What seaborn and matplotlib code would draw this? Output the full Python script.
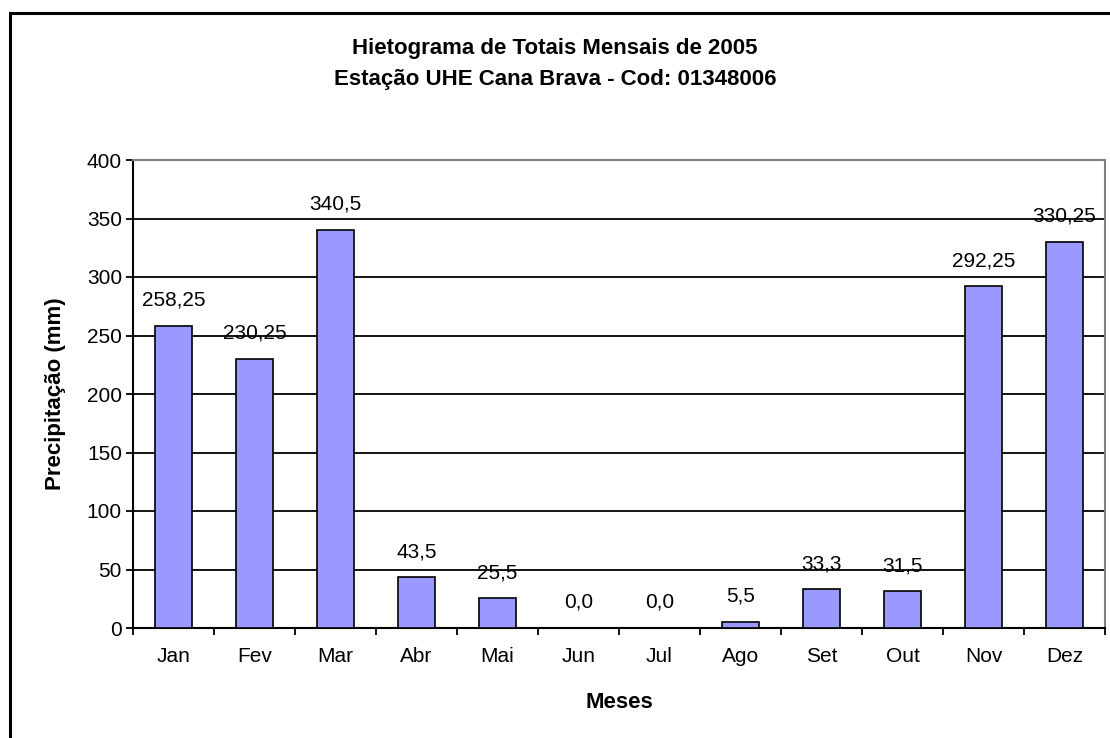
import numpy as np
import pandas as pd
import matplotlib
matplotlib.use("Agg")
import matplotlib.pyplot as plt
import seaborn as sns
from matplotlib.patches import Rectangle

# Monthly rainfall totals, 2005
meses = ["Jan", "Fev", "Mar", "Abr", "Mai", "Jun", "Jul", "Ago", "Set", "Out", "Nov", "Dez"]
precip = [258.25, 230.25, 340.5, 43.5, 25.5, 0.0, 0.0, 5.5, 33.3, 31.5, 292.25, 330.25]
rotulos = ["258,25", "230,25", "340,5", "43,5", "25,5", "0,0", "0,0", "5,5", "33,3", "31,5", "292,25", "330,25"]
y_ticks = [0, 50, 100, 150, 200, 250, 300, 350, 400]

df = pd.DataFrame({"Meses": meses, "Precipitacao": precip})

sns.set_theme(style="white")
plt.rcParams["font.family"] = ["Liberation Sans", "DejaVu Sans"]
plt.rcParams["text.color"] = "black"
plt.rcParams["axes.labelcolor"] = "black"
plt.rcParams["xtick.color"] = "black"
plt.rcParams["ytick.color"] = "black"

fig = plt.figure(figsize=(11.1, 7.38), dpi=100)
ax = fig.add_axes([133 / 1110, 1 - 628 / 738, (1105 - 133) / 1110, (628 - 160) / 738])

# outer chart border (only left/top visible in the reference)
fig.patches.append(Rectangle((10 / 1110, -0.1), 1.2, 1 - 13 / 738 + 0.1,
                             transform=fig.transFigure, fill=False,
                             edgecolor="black", linewidth=2.2, zorder=0))

sns.barplot(data=df, x="Meses", y="Precipitacao", color="#9999FF", saturation=1,
            width=0.45, edgecolor="black", linewidth=1.2, ax=ax, zorder=3)

for i, (v, lab) in enumerate(zip(precip, rotulos)):
    ax.annotate(lab, (i, v), xytext=(0, 14.4), textcoords="offset points",
                ha="center", va="baseline", fontsize=15, color="black", zorder=4)

ax.set_ylim(0, 400)
ax.set_xlim(-0.5, len(meses) - 0.5)
ax.set_yticks(y_ticks)
ax.set_yticklabels([str(t) for t in y_ticks], fontsize=15)
for t in y_ticks[1:-1]:
    ax.axhline(t, color="black", linewidth=1.3, zorder=1)

# ticks between categories on the x axis
ax.set_xticks(np.arange(len(meses)))
ax.set_xticklabels(meses, fontsize=15)
ax.tick_params(axis="x", which="major", length=0, pad=14)
ax.set_xticks(np.arange(-0.5, len(meses)), minor=True)
ax.tick_params(axis="x", which="minor", length=5, width=1.3, color="black", direction="out")
ax.tick_params(axis="y", length=5, width=1.3, color="black", direction="out", pad=3)
ax.xaxis.set_ticks_position("bottom")
ax.yaxis.set_ticks_position("left")

for side in ["left", "bottom"]:
    ax.spines[side].set_color("black")
    ax.spines[side].set_linewidth(1.5)
for side in ["top", "right"]:
    ax.spines[side].set_color("#808080")
    ax.spines[side].set_linewidth(1.5)

ax.set_xlabel("Meses", fontsize=16, fontweight="bold")
ax.set_ylabel("Precipitação (mm)", fontsize=16, fontweight="bold")
ax.xaxis.label.set_va("center")
ax.yaxis.label.set_va("center")
ax.xaxis.set_label_coords(0.5, (628 - 702) / 468)
ax.yaxis.set_label_coords((55 - 133) / 972, 0.5)

fig.text(0.5, 1 - 48.5 / 738, "Hietograma de Totais Mensais de 2005", ha="center", va="center",
         fontsize=16, fontweight="bold")
fig.text(0.5, 1 - 80 / 738, "Estação UHE Cana Brava - Cod: 01348006", ha="center", va="center",
         fontsize=16, fontweight="bold")

fig.savefig("out.png", dpi=100, facecolor="white")
